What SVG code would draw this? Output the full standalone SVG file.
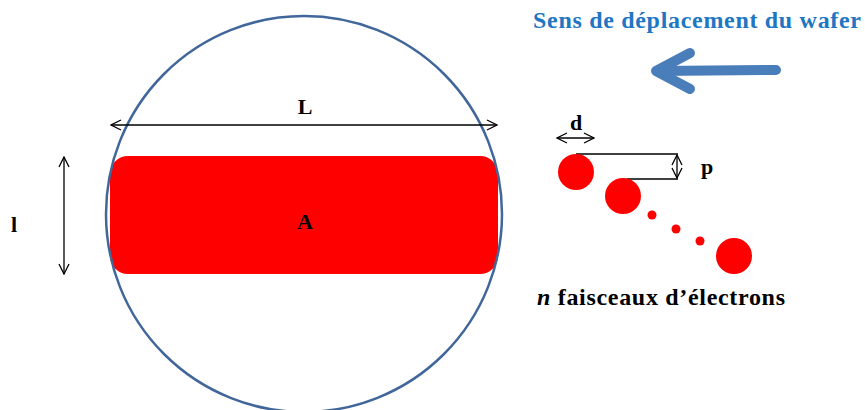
<svg xmlns="http://www.w3.org/2000/svg" width="865" height="410" viewBox="0 0 865 410">
<defs>
<marker id="ah" viewBox="0 0 12 12" refX="11" refY="6" markerWidth="12" markerHeight="12" markerUnits="userSpaceOnUse" orient="auto-start-reverse">
<path d="M1,1 L11,6 L1,11" fill="none" stroke="#000" stroke-width="1.3"/>
</marker>
</defs>
<style>
.lbl{font-family:"Liberation Serif",serif;font-weight:bold;fill:#000;font-size:22px}
.big{font-size:24px}
.dim{stroke:#000;stroke-width:1.3;fill:none}
.beam{fill:#ff0000}
</style>
<rect width="865" height="410" fill="#fff"/>
<g id="wafer">
<rect x="110" y="156" width="388" height="118" rx="18" fill="#ff0000"/>
<circle cx="304" cy="214" r="198" fill="none" stroke="#41679a" stroke-width="2.5"/>
<text class="lbl" x="305" y="229" text-anchor="middle">A</text>
</g>
<g id="connectors">
<line class="dim" x1="111" y1="125" x2="497" y2="125" marker-start="url(#ah)" marker-end="url(#ah)"/>
<line class="dim" x1="64" y1="157" x2="64" y2="274" marker-start="url(#ah)" marker-end="url(#ah)"/>
<line class="dim" x1="557" y1="138" x2="594" y2="138" marker-start="url(#ah)" marker-end="url(#ah)"/>
<line class="dim" x1="576" y1="154" x2="678" y2="154"/>
<line class="dim" x1="627" y1="179" x2="678" y2="179"/>
<line class="dim" x1="677" y1="155" x2="677" y2="178" marker-start="url(#ah)" marker-end="url(#ah)"/>
<g id="direction" stroke="#4a7ebb" stroke-width="10" fill="none" stroke-linecap="round" stroke-linejoin="round">
<line x1="776" y1="70" x2="658" y2="71"/>
<path d="M690,53 L656,71 L690,89"/>
</g>
</g>
<g id="labels">
<text class="lbl" x="305" y="114" text-anchor="middle">L</text>
<text class="lbl" x="14" y="232" text-anchor="middle">l</text>
<text class="lbl" x="576" y="130" text-anchor="middle">d</text>
<text class="lbl" x="707" y="174" text-anchor="middle">p</text>
<text x="533" y="28" font-family="Liberation Serif,serif" font-weight="bold" font-size="24" fill="#1f76c2" textLength="328" lengthAdjust="spacing">Sens de déplacement du wafer</text>
<text class="lbl big" x="537" y="305" textLength="248" lengthAdjust="spacing"><tspan font-style="italic">n</tspan> faisceaux d’électrons</text>
</g>
<g id="beams">
<circle class="beam" cx="576" cy="172" r="18"/>
<circle class="beam" cx="623" cy="196" r="18"/>
<circle class="beam" cx="652" cy="215" r="4.5"/>
<circle class="beam" cx="676" cy="229" r="4.5"/>
<circle class="beam" cx="700" cy="241" r="4.5"/>
<circle class="beam" cx="734" cy="256" r="18"/>
</g>
</svg>
